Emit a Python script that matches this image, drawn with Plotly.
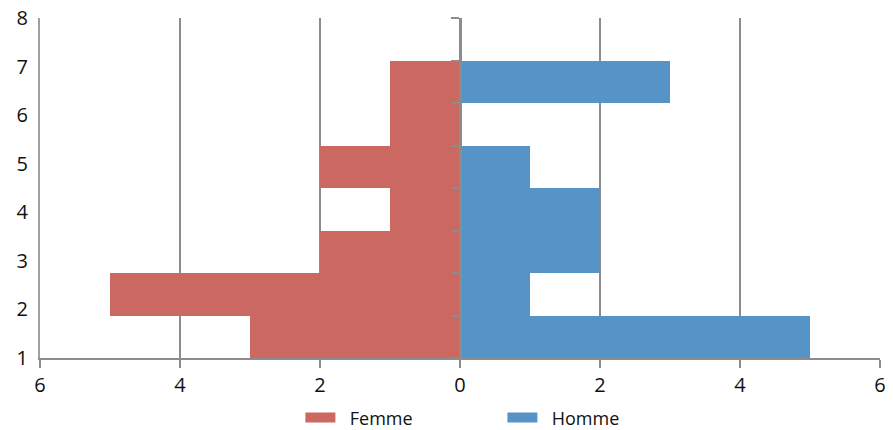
import plotly.graph_objects as go

categories = [1, 2, 3, 4, 5, 6, 7, 8]
femme = [-3, -5, -2, -1, -2, -1, -1, 0]
homme = [5, 1, 2, 2, 1, 0, 3, 0]
x_tickvals = [-6, -4, -2, 0, 2, 4, 6]
x_ticktext = ["6", "4", "2", "0", "2", "4", "6"]
y_ticks = [1, 2, 3, 4, 5, 6, 7, 8]
series_names = ["Femme", "Homme"]

n = len(categories)
band = (max(y_ticks) - min(y_ticks)) / n
centers = [min(y_ticks) + (i + 0.5) * band for i in range(n)]
bounds = [min(y_ticks) + i * band for i in range(n + 1)]

RED = "#CB6862"
BLUE = "#5694C7"
GRID = "#8C8C8C"
PAD = "\u00a0\u00a0"

fig = go.Figure()
fig.add_trace(go.Bar(y=centers, x=femme, orientation="h", width=band, name=series_names[0],
                     marker=dict(color=RED, line=dict(width=0)), showlegend=False,
                     legendgroup="f"))
fig.add_trace(go.Bar(y=centers, x=homme, orientation="h", width=band, name=series_names[1],
                     marker=dict(color=BLUE, line=dict(width=0)), showlegend=False,
                     legendgroup="h"))
# legend swatches (wide rectangles)
fig.add_trace(go.Scatter(x=[None], y=[None], mode="lines", name=PAD + series_names[0],
                         line=dict(color=RED, width=15), legendgroup="f"))
fig.add_trace(go.Scatter(x=[None], y=[None], mode="lines", name=PAD + series_names[1],
                         line=dict(color=BLUE, width=15), legendgroup="h"))
# invisible trace for center axis with category tick marks
fig.add_trace(go.Scatter(x=[0], y=[1], yaxis="y2", mode="markers",
                         marker=dict(opacity=0), showlegend=False, hoverinfo="skip"))

fig.update_layout(
    width=893, height=430,
    margin=dict(l=40, r=13, t=18, b=72, autoexpand=False),
    paper_bgcolor="white", plot_bgcolor="white",
    barmode="relative", bargap=0,
    font=dict(family="Open Sans", size=20, color="#111111"),
    xaxis=dict(range=[-6, 6], tickvals=x_tickvals, ticktext=x_ticktext,
               showgrid=True, gridcolor=GRID, gridwidth=1.5,
               zeroline=False, showline=True, linecolor=GRID, linewidth=2,
               ticks="outside", ticklen=8, tickcolor=GRID, tickwidth=2,
               tickfont=dict(size=20), automargin=False, fixedrange=True),
    yaxis=dict(range=[1, 8], tickvals=y_ticks, showgrid=False, zeroline=False,
               showline=True, linecolor="#A0A0A0", linewidth=2, ticks="",
               ticklabelstandoff=6, ticklabeloverflow="allow",
               tickfont=dict(size=20), automargin=False, fixedrange=True),
    yaxis2=dict(range=[1, 8], overlaying="y", anchor="free", position=0.5,
                side="left", tickvals=bounds, showticklabels=False,
                showgrid=False, zeroline=False, showline=True,
                linecolor=GRID, linewidth=2.5, ticks="outside", ticklen=8,
                tickcolor=GRID, tickwidth=2, automargin=False),
    legend=dict(orientation="h", x=0.31, xanchor="left", y=-0.176, yanchor="middle",
                font=dict(family="Open Sans", size=18),
                entrywidth=157, entrywidthmode="pixels", traceorder="normal"),
)
fig.write_html("out.html", config={"displayModeBar": False},
               post_script="document.body.style.margin='0';document.documentElement.style.margin='0';")
